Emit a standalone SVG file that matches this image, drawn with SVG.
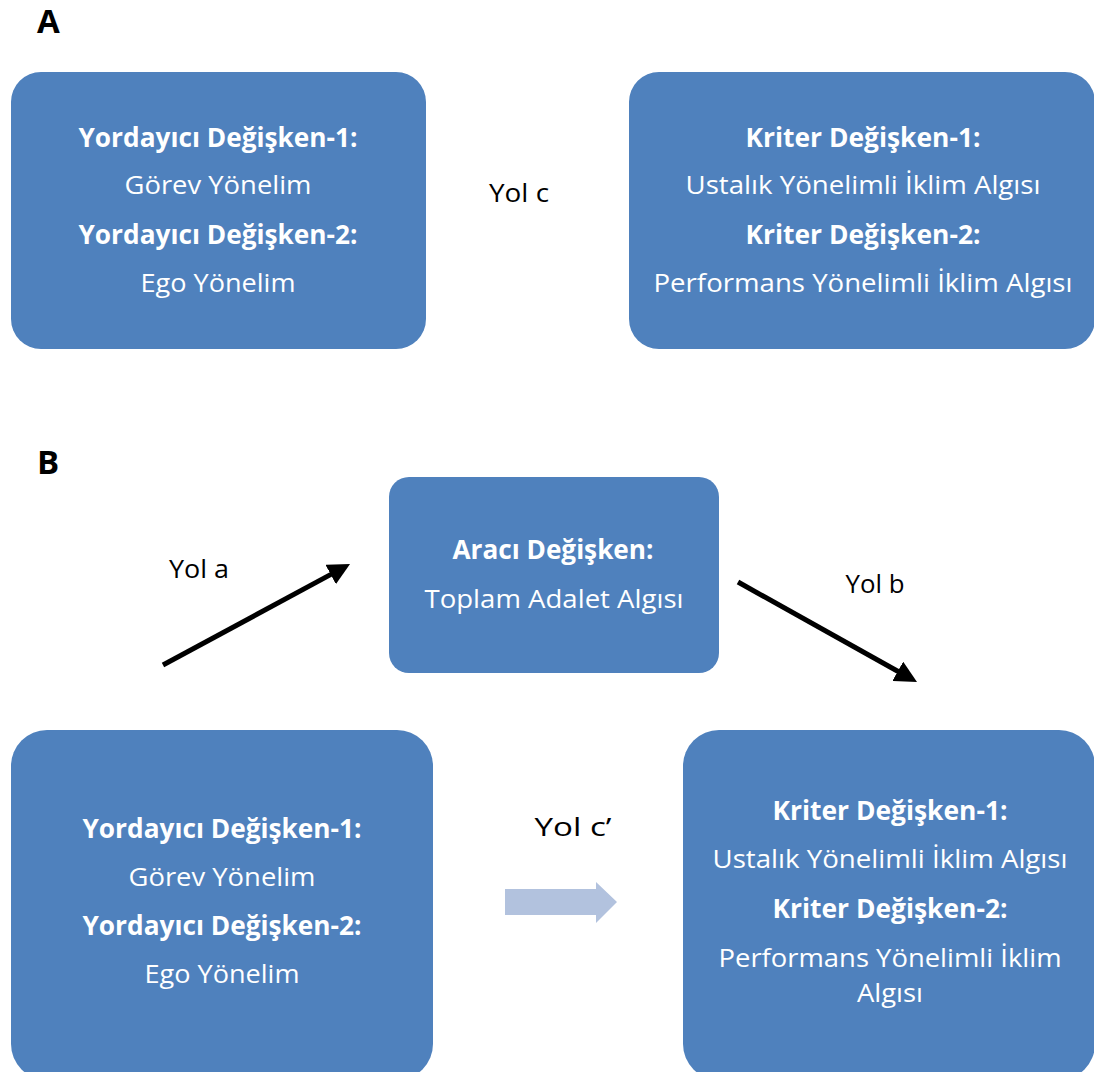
<svg xmlns="http://www.w3.org/2000/svg" width="1094" height="1072" viewBox="0 0 1094 1072">
<style>
.box{fill:#4F81BD;}
.t{font-family:"Open Sans","Liberation Sans",sans-serif;font-size:26px;fill:#FFFFFF;text-anchor:middle;}
.b{font-weight:bold;}
.lbl{font-family:"Open Sans","Liberation Sans",sans-serif;font-size:26px;fill:#000000;text-anchor:middle;}
.panel{font-family:"Open Sans","Liberation Sans",sans-serif;font-size:33px;font-weight:bold;fill:#000000;}
.conn{stroke:#000000;stroke-width:5;fill:none;}
</style>
<defs>
<marker id="ah" markerUnits="userSpaceOnUse" viewBox="0 0 22 22" refX="4" refY="11" markerWidth="22" markerHeight="22" orient="auto">
<path d="M0,0 L22,11 L0,22 Z" fill="#000000"/>
</marker>
</defs>
<rect width="1094" height="1072" fill="#FFFFFF"/>
<text class="panel" x="37" y="33">A</text>
<text class="panel" x="37" y="474">B</text>

<g id="a-predictor">
<rect class="box" x="11" y="72" width="415" height="277" rx="30"/>
<text class="t b" x="218" y="147" textLength="279" lengthAdjust="spacingAndGlyphs">Yordayıcı Değişken-1:</text>
<text class="t" x="218" y="194" textLength="187" lengthAdjust="spacingAndGlyphs">Görev Yönelim</text>
<text class="t b" x="218" y="244" textLength="279" lengthAdjust="spacingAndGlyphs">Yordayıcı Değişken-2:</text>
<text class="t" x="218" y="292" textLength="155" lengthAdjust="spacingAndGlyphs">Ego Yönelim</text>
</g>

<g id="a-criterion">
<rect class="box" x="629" y="72" width="466" height="277" rx="30"/>
<text class="t b" x="863" y="147" textLength="235" lengthAdjust="spacingAndGlyphs">Kriter Değişken-1:</text>
<text class="t" x="863" y="194" textLength="355" lengthAdjust="spacingAndGlyphs">Ustalık Yönelimli İklim Algısı</text>
<text class="t b" x="863" y="244" textLength="235" lengthAdjust="spacingAndGlyphs">Kriter Değişken-2:</text>
<text class="t" x="863" y="292" textLength="419" lengthAdjust="spacingAndGlyphs">Performans Yönelimli İklim Algısı</text>
</g>

<g id="b-mediator">
<rect class="box" x="389" y="477" width="330" height="196" rx="20"/>
<text class="t b" x="553" y="559" textLength="201" lengthAdjust="spacingAndGlyphs">Aracı Değişken:</text>
<text class="t" x="554" y="608" textLength="259" lengthAdjust="spacingAndGlyphs">Toplam Adalet Algısı</text>
</g>

<g id="b-predictor">
<rect class="box" x="11" y="730" width="422" height="350" rx="36"/>
<text class="t b" x="222" y="838" textLength="279" lengthAdjust="spacingAndGlyphs">Yordayıcı Değişken-1:</text>
<text class="t" x="222" y="886" textLength="187" lengthAdjust="spacingAndGlyphs">Görev Yönelim</text>
<text class="t b" x="222" y="935" textLength="279" lengthAdjust="spacingAndGlyphs">Yordayıcı Değişken-2:</text>
<text class="t" x="222" y="983" textLength="155" lengthAdjust="spacingAndGlyphs">Ego Yönelim</text>
</g>

<g id="b-criterion">
<rect class="box" x="683" y="730" width="412" height="350" rx="36"/>
<text class="t b" x="890" y="820" textLength="235" lengthAdjust="spacingAndGlyphs">Kriter Değişken-1:</text>
<text class="t" x="890" y="868" textLength="355" lengthAdjust="spacingAndGlyphs">Ustalık Yönelimli İklim Algısı</text>
<text class="t b" x="890" y="918" textLength="235" lengthAdjust="spacingAndGlyphs">Kriter Değişken-2:</text>
<text class="t" x="890" y="967" textLength="343" lengthAdjust="spacingAndGlyphs">Performans Yönelimli İklim</text>
<text class="t" x="890" y="1002" textLength="66" lengthAdjust="spacingAndGlyphs">Algısı</text>
</g>

<g id="connectors">
<line class="conn" x1="163" y1="665" x2="334.2" y2="572.6" marker-end="url(#ah)"/>
<line class="conn" x1="738" y1="582" x2="901.3" y2="673.2" marker-end="url(#ah)"/>
<polygon points="505,889 596,889 596,882 617,902 596,923 596,915 505,915" fill="#B2C2DE"/>
<text class="lbl" x="519" y="202" textLength="60" lengthAdjust="spacingAndGlyphs">Yol c</text>
<text class="lbl" x="199" y="578" textLength="60" lengthAdjust="spacingAndGlyphs">Yol a</text>
<text class="lbl" x="875" y="593" textLength="59" lengthAdjust="spacingAndGlyphs">Yol b</text>
<text class="lbl" x="573" y="836" textLength="77" lengthAdjust="spacingAndGlyphs">Yol c’</text>
</g>
</svg>
